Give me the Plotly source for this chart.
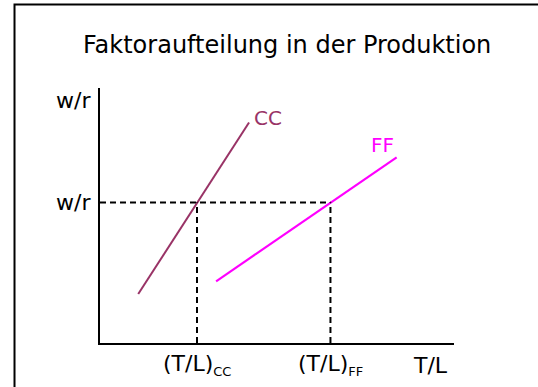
import plotly.graph_objects as go

# Data (abstract units: T/L on x, w/r on y)
cc_x = [1.08, 4.21]
cc_y = [1.92, 8.65]
ff_x = [3.28, 8.38]
ff_y = [2.42, 7.28]
wr_eq = 5.51
tl_cc = 2.74
tl_ff = 6.51

FONT = "DejaVu Sans"
CC_COLOR = "#993366"
FF_COLOR = "#FF00FF"
DASH = "6px,4px"

fig = go.Figure()
fig.add_trace(go.Scatter(x=cc_x, y=cc_y, mode="lines",
                         line=dict(color=CC_COLOR, width=2), hoverinfo="skip"))
fig.add_trace(go.Scatter(x=ff_x, y=ff_y, mode="lines",
                         line=dict(color=FF_COLOR, width=2.2), hoverinfo="skip"))
fig.add_trace(go.Scatter(x=[0, tl_ff], y=[wr_eq, wr_eq], mode="lines",
                         line=dict(color="black", width=2, dash=DASH), hoverinfo="skip"))
fig.add_trace(go.Scatter(x=[tl_cc, tl_cc], y=[0, wr_eq], mode="lines",
                         line=dict(color="black", width=2, dash=DASH), hoverinfo="skip"))
fig.add_trace(go.Scatter(x=[tl_ff, tl_ff], y=[0, wr_eq], mode="lines",
                         line=dict(color="black", width=2, dash=DASH), hoverinfo="skip"))

LBL = dict(family=FONT, size=22, color="black")
SUB = "<sub><span style='font-size:13px'>{}</span></sub>"

ann = [
    dict(x=cc_x[1], y=cc_y[1], xref="x", yref="y", text="CC", showarrow=False,
         xanchor="left", yanchor="middle", xshift=3, yshift=4,
         font=dict(family=FONT, size=20, color=CC_COLOR)),
    dict(x=ff_x[1], y=ff_y[1], xref="x", yref="y", text="FF", showarrow=False,
         xanchor="right", yanchor="middle", xshift=-1, yshift=12,
         font=dict(family=FONT, size=20, color=FF_COLOR)),
    dict(x=0, y=10, xref="x", yref="y", text="w/r", showarrow=False,
         xanchor="right", yanchor="middle", xshift=-7, yshift=-12, font=LBL),
    dict(x=0, y=wr_eq, xref="x", yref="y", text="w/r", showarrow=False,
         xanchor="right", yanchor="middle", xshift=-7, yshift=0, font=LBL),
    dict(x=tl_cc, y=0, xref="x", yref="y", text="(T/L)" + SUB.format("CC"),
         showarrow=False, xanchor="center", yanchor="middle", yshift=-22, font=LBL),
    dict(x=tl_ff, y=0, xref="x", yref="y", text="(T/L)" + SUB.format("FF"),
         showarrow=False, xanchor="center", yanchor="middle", yshift=-22, font=LBL),
    dict(x=10, y=0, xref="x", yref="y", text="T/L", showarrow=False,
         xanchor="right", yanchor="middle", xshift=-4, yshift=-22, font=LBL),
    dict(x=0.527, y=1.169, xref="paper", yref="paper",
         text="Faktoraufteilung in der Produktion", showarrow=False,
         xanchor="center", yanchor="middle",
         font=dict(family=FONT, size=24, color="black")),
]

shapes = [dict(type="rect", xref="paper", yref="paper",
               x0=-0.2415, x1=1.4, y0=-0.3, y1=1.327,
               line=dict(color="black", width=2), fillcolor="rgba(0,0,0,0)",
               layer="below")]

fig.update_layout(
    width=538, height=387,
    margin=dict(l=100, r=84, t=88, b=44),
    paper_bgcolor="white", plot_bgcolor="white",
    showlegend=False,
    annotations=ann,
    shapes=shapes,
    xaxis=dict(range=[0, 10], showgrid=False, zeroline=False, showticklabels=False,
               ticks="", showline=True, linecolor="black", linewidth=2,
               fixedrange=True),
    yaxis=dict(range=[0, 10], showgrid=False, zeroline=False, showticklabels=False,
               ticks="", showline=True, linecolor="black", linewidth=2,
               fixedrange=True),
)

fig.write_html(
    "out.html",
    config={"displayModeBar": False},
    post_script="document.body.style.margin='0';document.body.style.overflow='hidden';",
)
